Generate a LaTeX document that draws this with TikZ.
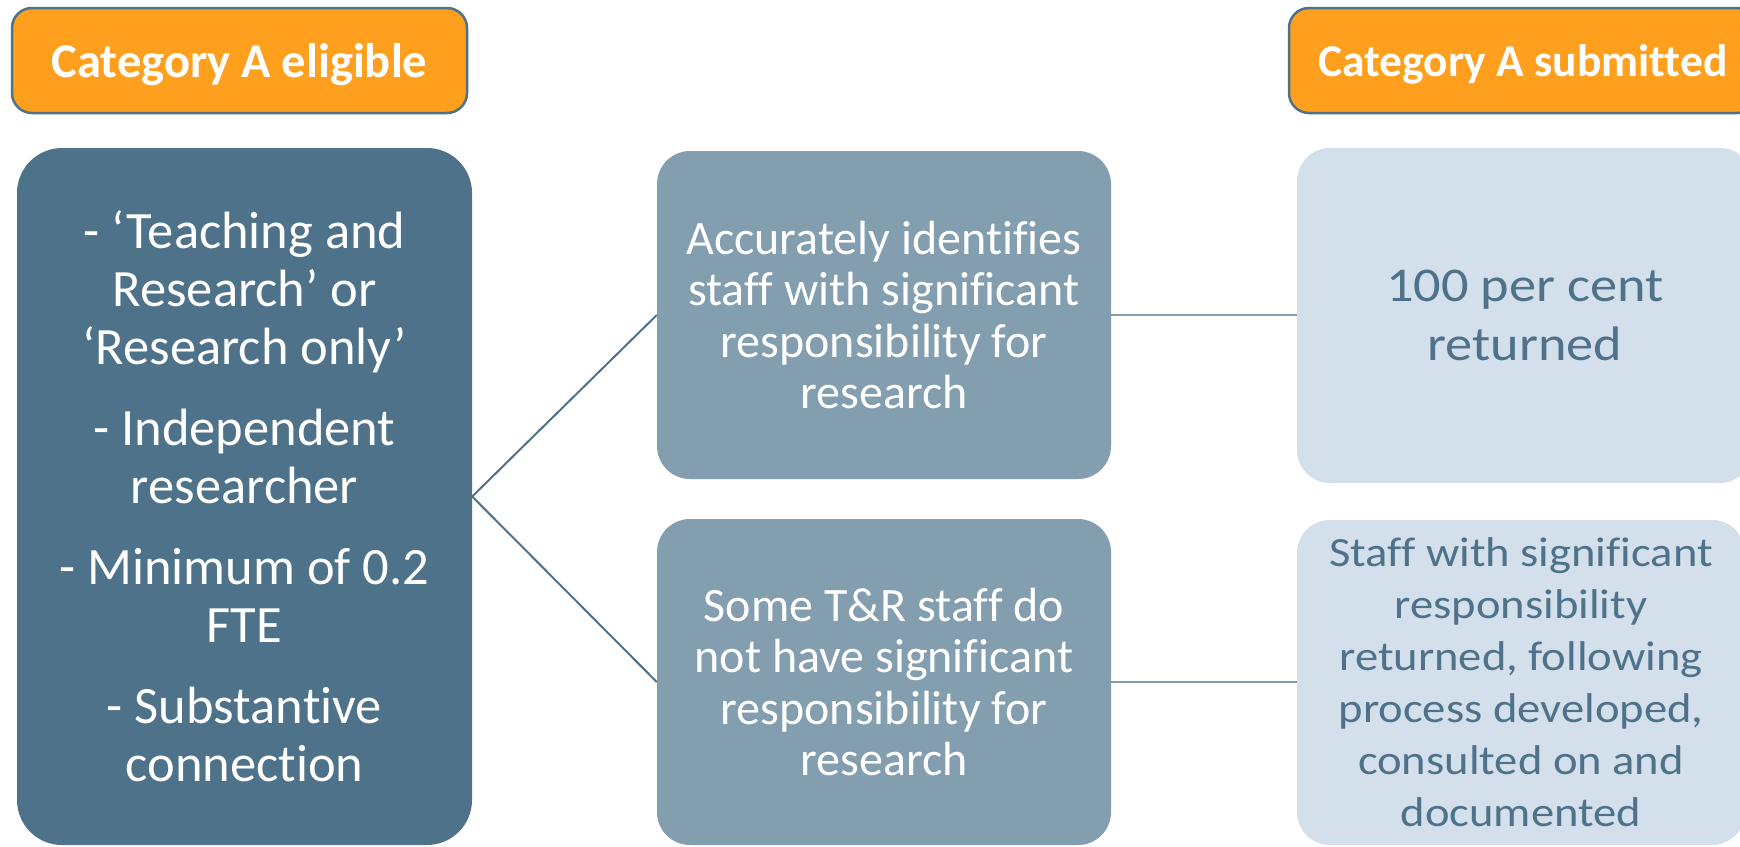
\documentclass[tikz,border=0pt]{standalone}
\usepackage{fontspec}
\setmainfont{Carlito}[Ligatures={NoCommon,NoContextual}]
\newfontfamily\widefont{Carlito}[FakeStretch=1.12, Ligatures={NoCommon,NoContextual}]

\definecolor{headorange}{RGB}{255,159,30}
\definecolor{steel}{RGB}{78,114,137}
\definecolor{midsteel}{RGB}{130,158,175}
\definecolor{palesteel}{RGB}{211,223,234}

\tikzset{
  header/.style={draw=steel, line width=2.5pt, fill=headorange, rounded corners=20pt,
    text=white, align=center, inner sep=0pt, text depth=0pt},
  criteria/.style={fill=steel, rounded corners=45pt, text=white,
    font=\fontsize{52.5}{58}\selectfont, align=center, inner sep=0pt},
  outcome/.style={fill=midsteel, rounded corners=33pt, text=white,
    font=\fontsize{48}{51.5}\selectfont, align=center, inner sep=0pt},
  result/.style={fill=palesteel, rounded corners=33pt, text=steel,
    align=center, inner sep=0pt},
  branch/.style={draw=steel, line width=2pt},
  link/.style={draw=midsteel, line width=2.5pt}
}

\begin{document}
\begin{tikzpicture}[x=1pt, y=-1pt]
\useasboundingbox (0,0) rectangle (1740,846);
\clip (0,0) rectangle (1740,846);

% column headings
\node[header, minimum width=455pt, minimum height=105pt,
      font=\fontsize{48.5}{54}\selectfont\bfseries] (hleft) at (239.5,60.5) {Category A eligible};
\node[header, minimum width=468pt, minimum height=105pt,
      font=\fontsize{45.5}{54}\selectfont\bfseries] (hright) at (1523,60.5) {Category A submitted};

% eligibility criteria
\node[criteria, minimum width=455pt, minimum height=697pt] (crit) at (244.5,496.5)
  {- ‘Teaching and\\ Research’ or\\ ‘Research only’\\[23pt]
   - Independent\\ researcher\\[23pt]
   - Minimum of 0.2\\ FTE\\[23pt]
   - Substantive\\ connection};

% two identification outcomes
\node[outcome, minimum width=454pt, minimum height=328pt] (mtop) at (884,315)
  {Accurately identifies\\ staff with significant\\ responsibility for\\ research};
\node[outcome, minimum width=454pt, minimum height=326pt] (mbot) at (884,682)
  {Some T\&R staff do\\ not have significant\\ responsibility for\\ research};

% submission results
\node[result, minimum width=456pt, minimum height=335pt,
      font=\widefont\fontsize{48.5}{59}\selectfont] (rtop) at (1525,315.5)
  {100 per cent\\ returned};
\node[result, minimum width=448pt, minimum height=325pt,
      font=\widefont\fontsize{41.6}{52}\selectfont] (rbot) at (1521,682.5)
  {Staff with significant\\ responsibility\\ returned, following\\ process developed,\\ consulted on and\\ documented};

% connectors
\draw[branch] (mtop.west) -- (crit.east) -- (mbot.west);
\draw[link] (mtop.east) -- (mtop.east -| rtop.west);
\draw[link] (mbot.east) -- (mbot.east -| rbot.west);
\end{tikzpicture}
\end{document}
